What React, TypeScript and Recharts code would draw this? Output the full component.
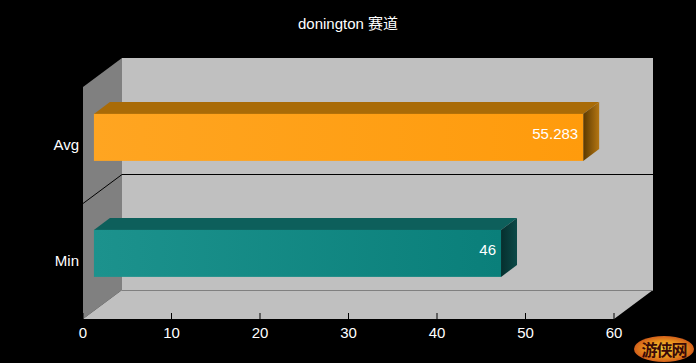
import { BarChart, Bar, XAxis, YAxis, ReferenceArea } from 'recharts'

const title = 'donington 赛道'
const categories = ['Avg', 'Min']
const values = [55.283, 46]
const valueLabels = ['55.283', '46']
const xTicks = [0, 10, 20, 30, 40, 50, 60]

const data = categories.map((name, i) => ({ name, value: values[i] }))

// depth of the 3d box, and where the bars sit inside it
const DX = 39
const DY = -29
const BAR_FRONT = 0.28
const BAR_DEPTH = 0.41

const palette = [
  { front: ['#ffa521', '#ff9b0c'], top: '#a96b07', side: ['#5a3800', '#b47612'] },
  { front: ['#1c928d', '#0a7f7a'], top: '#0d5f5b', side: ['#062f2e', '#0c4a48'] },
]

const font = '"Liberation Sans", Arial, "Noto Sans CJK SC", sans-serif'

function Walls(props: any) {
  const { x, y, width, height } = props
  const bx = x + DX
  const by = y + DY
  const band = height / categories.length
  const dividers = categories.slice(1).map((_, i) => Math.round(y + band * (i + 1)) + 0.5)
  return (
    <g>
      <rect x={bx} y={by} width={width} height={height} fill="#c0c0c0" />
      <polygon
        points={`${x},${y} ${bx},${by} ${bx},${by + height} ${x},${y + height}`}
        fill="#808080"
      />
      <polygon
        points={`${x},${y + height} ${bx},${by + height} ${bx + width},${by + height} ${x + width},${y + height}`}
        fill="#c0c0c0"
      />
      <line x1={bx} y1={by + height + 0.5} x2={bx + width} y2={by + height + 0.5} stroke="#808080" />
      {dividers.map((yy, i) => (
        <polyline
          key={i}
          points={`${x},${yy} ${bx},${yy + DY} ${bx + width},${yy + DY}`}
          fill="none"
          stroke="#000"
        />
      ))}
    </g>
  )
}

function Box(props: any) {
  const { x, y, width, height, index } = props
  const c = palette[index % palette.length]
  const fx = x + DX * BAR_FRONT
  const fy = y + DY * BAR_FRONT
  const dx = DX * BAR_DEPTH
  const dy = DY * BAR_DEPTH
  const r = fx + width
  return (
    <g>
      <defs>
        <linearGradient id={`front${index}`} x1="0" y1="0" x2="1" y2="0">
          <stop offset="0%" stopColor={c.front[0]} />
          <stop offset="100%" stopColor={c.front[1]} />
        </linearGradient>
        <linearGradient id={`side${index}`} x1="0" y1="0" x2="1" y2="0">
          <stop offset="0%" stopColor={c.side[0]} />
          <stop offset="100%" stopColor={c.side[1]} />
        </linearGradient>
      </defs>
      <polygon
        points={`${fx},${fy} ${fx + dx},${fy + dy} ${r + dx},${fy + dy} ${r},${fy}`}
        fill={c.top}
      />
      <polygon
        points={`${r},${fy} ${r + dx},${fy + dy} ${r + dx},${fy + dy + height} ${r},${fy + height}`}
        fill={`url(#side${index})`}
      />
      <rect x={fx} y={fy} width={width} height={height} fill={`url(#front${index})`} />
      <text
        x={r - 5}
        y={fy + 25}
        textAnchor="end"
        fill="#fff"
        fontSize={15}
        fontFamily={font}
      >
        {valueLabels[index]}
      </text>
    </g>
  )
}

function ValueTick(props: any) {
  const { x, y, payload } = props
  return (
    <g>
      <line x1={x} y1={y - 6} x2={x} y2={y} stroke="#000" />
      <text x={x} y={y + 19} textAnchor="middle" fill="#fff" fontSize={15} fontFamily={font}>
        {payload.value}
      </text>
    </g>
  )
}

function CategoryTick(props: any) {
  const { x, y, payload } = props
  return (
    <text x={x - 4} y={y + 5} textAnchor="end" fill="#fff" fontSize={15} fontFamily={font}>
      {payload.value}
    </text>
  )
}

export default function App() {
  return (
    <div style={{ position: 'relative', width: 696, height: 363, background: '#000' }}>
      <style>{'body{margin:0;background:#000}'}</style>
      <div
        style={{
          position: 'absolute',
          top: 16,
          left: 0,
          width: 696,
          textAlign: 'center',
          color: '#fff',
          fontFamily: font,
          fontSize: 15,
          lineHeight: '15px',
          zIndex: 1,
        }}
      >
        {title}
      </div>
      <BarChart
        width={696}
        height={363}
        data={data}
        layout="vertical"
        margin={{ top: 87, right: 82, left: 0, bottom: 0 }}
        style={{ background: '#000' }}
      >
        <XAxis
          type="number"
          domain={[0, 60]}
          ticks={xTicks}
          axisLine={false}
          tickLine={false}
          tickSize={0}
          tickMargin={0}
          height={44}
          tick={<ValueTick />}
          interval={0}
        />
        <YAxis
          type="category"
          dataKey="name"
          width={83}
          axisLine={false}
          tickLine={false}
          tickSize={0}
          tickMargin={0}
          tick={<CategoryTick />}
        />
        <ReferenceArea x1={0} x2={60} shape={<Walls />} ifOverflow="visible" />
        <Bar dataKey="value" barSize={47} shape={<Box />} isAnimationActive={false} />
      </BarChart>
      <div
        style={{
          position: 'absolute',
          left: 634,
          top: 336,
          width: 60,
          height: 26,
          borderRadius: '50%',
          background: 'radial-gradient(ellipse at center, #f6d23a 0%, #e8901c 45%, #b8261a 100%)',
          color: '#3a0a08',
          fontFamily: '"Noto Sans CJK SC", sans-serif',
          fontSize: 16,
          fontWeight: 700,
          lineHeight: '26px',
          textAlign: 'center',
          letterSpacing: -1,
        }}
      >
        游侠网
      </div>
    </div>
  )
}
